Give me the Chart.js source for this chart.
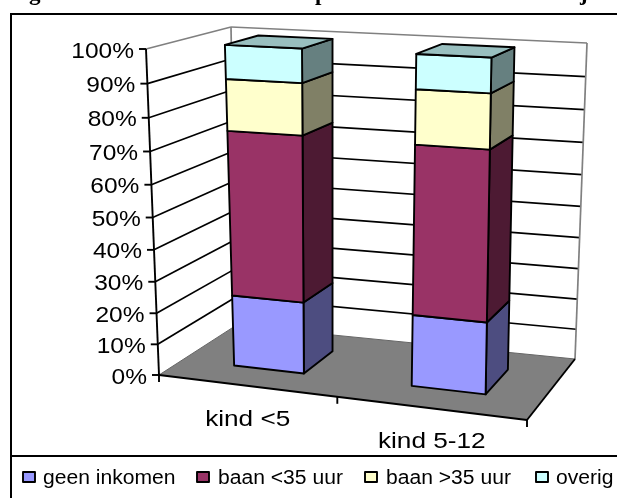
<!DOCTYPE html>
<html>
<head>
<meta charset="utf-8">
<title>kind</title>
<script src="https://cdn.jsdelivr.net/npm/chart.js@4"></script>
<style>
    body { margin: 0; background: #fff; }
    canvas { display: block; }
</style>
</head>
<body>
<canvas id="myChart" width="617" height="498"></canvas>
<script>
    // data
    var categories = ['kind <5', 'kind 5-12'];
    var seriesNames = ['geen inkomen', 'baan <35 uur', 'baan >35 uur', 'overig'];
    var geenInkomen = [23, 22.5];
    var baanOnder35 = [51.5, 51.5];
    var baanBoven35 = [15.5, 16];
    var overig = [10, 10];
    var tickLabels = ['0%', '10%', '20%', '30%', '40%', '50%', '60%', '70%', '80%', '90%', '100%'];

    // colours: front, side, top of the blocks
    var frontColors = ['#9999FF', '#993366', '#FFFFCC', '#CCFFFF'];
    var sideColors = ['#4D4D80', '#4D1A33', '#808066', '#668080'];
    var topColor = '#99BFBF';

    // corners of the floor and the ceiling of the 3d box on screen: front left, front right, back right, back left
    var floorQuad = [[159, 375], [527, 420], [575, 359], [236, 325.4]];
    var roofQuad = [[146, 49], [537.5, 68], [587, 43], [231, 27]];
    var barDepth = [0.29, 0.71];
    var barLean = -5.8;

    function squareToQuad(q) {
        var dx1 = q[1][0] - q[2][0], dx2 = q[3][0] - q[2][0], sx = q[0][0] - q[1][0] + q[2][0] - q[3][0];
        var dy1 = q[1][1] - q[2][1], dy2 = q[3][1] - q[2][1], sy = q[0][1] - q[1][1] + q[2][1] - q[3][1];
        var den = dx1 * dy2 - dx2 * dy1;
        var g = (sx * dy2 - dx2 * sy) / den;
        var h = (dx1 * sy - sx * dy1) / den;
        return function (u, d) {
            var w = g * u + h * d + 1;
            return [
                ((q[1][0] - q[0][0] + g * q[1][0]) * u + (q[3][0] - q[0][0] + h * q[3][0]) * d + q[0][0]) / w,
                ((q[1][1] - q[0][1] + g * q[1][1]) * u + (q[3][1] - q[0][1] + h * q[3][1]) * d + q[0][1]) / w
            ];
        };
    }
    var floorMap = squareToQuad(floorQuad);
    var roofMap = squareToQuad(roofQuad);

    // u along the categories, d into the depth, v up the value axis (all 0..1)
    function project(u, d, v, lean) {
        var vv = v / (1 + 0.07 * (1 - v));
        var su = u + 0.077 * u * (1 - u);
        var a = floorMap(su, d), b = roofMap(su, d);
        return [a[0] + (b[0] - a[0]) * vv + (lean ? barLean * vv : 0), a[1] + (b[1] - a[1]) * vv];
    }

    function line(ctx, p, q, color, width) {
        ctx.beginPath();
        ctx.moveTo(p[0], p[1]);
        ctx.lineTo(q[0], q[1]);
        ctx.strokeStyle = color;
        ctx.lineWidth = width;
        ctx.stroke();
    }

    function poly(ctx, pts, fill) {
        ctx.beginPath();
        ctx.moveTo(pts[0][0], pts[0][1]);
        for (var i = 1; i < pts.length; i++) ctx.lineTo(pts[i][0], pts[i][1]);
        ctx.closePath();
        ctx.fillStyle = fill;
        ctx.fill();
        ctx.strokeStyle = '#000';
        ctx.lineWidth = 1.9;
        ctx.lineJoin = 'round';
        ctx.stroke();
    }

    // the source picture is stretched sideways, so the text is too
    function text(ctx, str, x, y, align, size, stretch) {
        ctx.save();
        ctx.translate(x, y);
        ctx.scale(stretch, 1);
        ctx.font = size + 'px "Liberation Sans", Arial, sans-serif';
        ctx.fillStyle = '#000';
        ctx.textAlign = align;
        ctx.textBaseline = 'alphabetic';
        ctx.fillText(str, 0, 0);
        ctx.restore();
    }

    var box3d = {
        id: 'box3d',
        beforeDatasetsDraw: function (chart) {
            var ctx = chart.ctx, xs = chart.scales.x, ys = chart.scales.y;
            var toU = function (px) { return (px - xs.left) / xs.width; };
            var toV = function (px) { return (ys.bottom - px) / ys.height; };
            var i;

            ctx.save();
            ctx.fillStyle = '#fff';
            ctx.fillRect(0, 0, chart.width, chart.height);

            // title line, only the bottom of it is inside the picture
            ctx.font = 'bold 23px "Liberation Serif", serif';
            ctx.fillStyle = '#000';
            ctx.textAlign = 'left';
            ctx.fillText('g', 29, 0);
            ctx.fillText('p', 315, 0);
            ctx.fillText('j', 580, 0);

            // frame
            line(ctx, [11, 14], [617, 14], '#000', 2);
            line(ctx, [11, 13], [11, 498], '#000', 2);
            line(ctx, [11, 456], [617, 456], '#000', 2);

            // walls
            ys.ticks.forEach(function (t) {
                var v = toV(ys.getPixelForValue(t.value));
                if (v > 0 && v < 1) {
                    line(ctx, project(0, 0, v), project(0, 1, v), '#000', 1.7);
                    line(ctx, project(0, 1, v), project(1, 1, v), '#000', 1.7);
                }
            });
            line(ctx, project(0, 0, 1), project(0, 1, 1), '#808080', 1.7);
            line(ctx, project(0, 1, 1), project(1, 1, 1), '#808080', 1.7);
            line(ctx, project(0, 1, 0), project(0, 1, 1), '#808080', 1.7);
            line(ctx, project(1, 1, 0), project(1, 1, 1), '#808080', 1.7);

            // floor
            ctx.beginPath();
            ctx.moveTo(floorQuad[0][0], floorQuad[0][1]);
            for (i = 1; i < 4; i++) ctx.lineTo(floorQuad[i][0], floorQuad[i][1]);
            ctx.closePath();
            ctx.fillStyle = '#808080';
            ctx.fill();
            line(ctx, floorQuad[0], floorQuad[3], '#666', 1);
            line(ctx, floorQuad[3], floorQuad[2], '#666', 1);
            line(ctx, floorQuad[0], floorQuad[1], '#000', 1.9);
            line(ctx, floorQuad[1], floorQuad[2], '#000', 1.9);

            // value axis with its ticks and labels
            line(ctx, project(0, 0, 0), project(0, 0, 1), '#000', 1.9);
            ys.ticks.forEach(function (t) {
                var p = project(0, 0, toV(ys.getPixelForValue(t.value)));
                line(ctx, [p[0] - 7, p[1]], p, '#000', 1.9);
                text(ctx, t.label, p[0] - 12, p[1] + 8.5, 'right', 22.5, 1.09);
            });

            // category axis ticks and labels
            [0, 0.5, 1].forEach(function (u) {
                var p = project(u, 0, 0);
                line(ctx, p, [p[0], p[1] + 7], '#000', 1.9);
            });
            xs.ticks.forEach(function (t, n) {
                var p = project(toU(xs.getPixelForTick(n)), 0, 0);
                text(ctx, t.label, p[0] + 1, p[1] + 40, 'center', 22, 1.19);
            });

            // blocks, from the bottom up
            var metas = chart.data.datasets.map(function (ds, k) { return chart.getDatasetMeta(k); });
            xs.ticks.forEach(function (t, n) {
                metas.forEach(function (meta, k) {
                    var bar = meta.data[n];
                    var u0 = toU(bar.x - bar.width / 2), u1 = toU(bar.x + bar.width / 2);
                    var v0 = toV(bar.base), v1 = toV(bar.y);
                    var d0 = barDepth[0], d1 = barDepth[1];
                    poly(ctx, [project(u1, d0, v0, 1), project(u1, d1, v0, 1), project(u1, d1, v1, 1), project(u1, d0, v1, 1)], sideColors[k]);
                    poly(ctx, [project(u0, d0, v0, 1), project(u1, d0, v0, 1), project(u1, d0, v1, 1), project(u0, d0, v1, 1)], frontColors[k]);
                    if (k === metas.length - 1) {
                        poly(ctx, [project(u0, d0, v1, 1), project(u1, d0, v1, 1), project(u1, d1, v1, 1), project(u0, d1, v1, 1)], topColor);
                    }
                });
            });

            // legend
            var boxX = [23, 197, 365, 536], textX = [43, 218, 386, 556];
            seriesNames.forEach(function (name, k) {
                ctx.fillStyle = frontColors[k];
                ctx.fillRect(boxX[k], 472, 12, 10);
                ctx.strokeStyle = '#000';
                ctx.lineWidth = 1.9;
                ctx.strokeRect(boxX[k], 472, 12, 10);
                text(ctx, name, textX[k], 484, 'left', 20, 1.055);
            });
            ctx.restore();
            return false; // the flat bars stay undrawn, only their geometry is used
        }
    };

    var ctx = document.getElementById('myChart').getContext('2d');
    var seriesValues = [geenInkomen, baanOnder35, baanBoven35, overig];
    var chart = new Chart(ctx, {
        type: 'bar',
        data: {
            labels: categories,
            datasets: seriesNames.map(function (name, k) {
                return { label: name, data: seriesValues[k], backgroundColor: frontColors[k] };
            })
        },
        options: {
            responsive: false,
            animation: false,
            devicePixelRatio: 1,
            categoryPercentage: 1,
            barPercentage: 0.4,
            plugins: { legend: { display: false }, tooltip: { enabled: false } },
            scales: {
                x: { stacked: true, display: false },
                y: {
                    stacked: true,
                    display: false,
                    min: 0,
                    max: 100,
                    ticks: {
                        stepSize: 10,
                        callback: function (value, index) { return tickLabels[index]; }
                    }
                }
            }
        },
        plugins: [box3d]
    });
</script>
</body>
</html>
